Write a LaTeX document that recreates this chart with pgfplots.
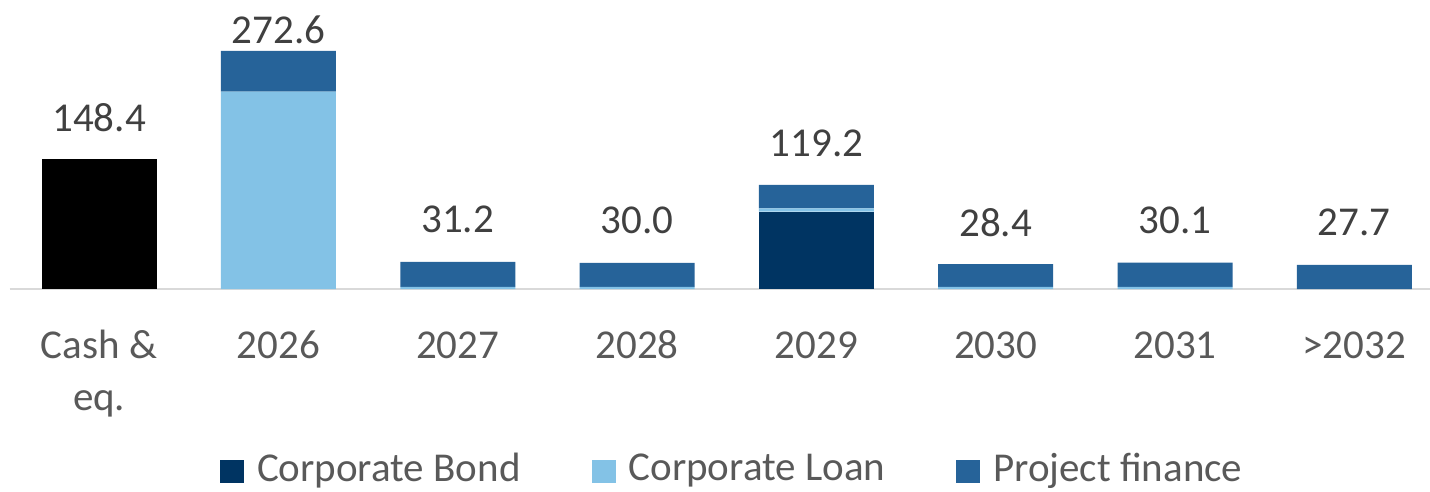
\documentclass[border=0pt]{standalone}
\usepackage{pgfplots}
\pgfplotsset{compat=1.18}
\usepackage{pgfplotstable}
\usepackage{fontspec}
\setmainfont{Carlito}
\definecolor{bondc}{RGB}{0,52,98}
\definecolor{loanc}{RGB}{131,194,230}
\definecolor{pfc}{RGB}{38,99,153}
\definecolor{valc}{HTML}{404040}
\definecolor{labc}{HTML}{595959}
\definecolor{axc}{HTML}{D9D9D9}
\newcommand{\cashlab}{\vtop{\halign{\hfil##\hfil\cr Cash \&\cr eq.\cr}}}
\pgfplotstableread{
x cash bond loan pf zero labA labB
0 148.4 0 0 0 0.001 148.4 {}
1 0 0 226.0 46.6 0.001 {} 272.6
2 0 0 2.5 28.7 0.001 31.2 {}
3 0 0 2.5 27.5 0.001 30.0 {}
4 0 88.5 3.9 26.8 0.001 119.2 {}
5 0 0 2.5 25.9 0.001 28.4 {}
6 0 0 2.5 27.6 0.001 30.1 {}
7 0 0 0 27.7 0.001 27.7 {}
}\data
\begin{document}
\begin{tikzpicture}
\useasboundingbox (-9.5pt,-202pt) rectangle (1420.5pt,289pt);
\begin{axis}[
  scale only axis,
  width=1420.5pt, height=289pt,
  xmin=-0.5, xmax=7.422,
  ymin=0, ymax=331,
  ybar stacked,
  bar width=115pt,
  axis y line=none,
  axis x line*=bottom,
  x axis line style={draw=axc, line width=2pt, -},
  xtick={0,1,2,3,4,5,6,7},
  xticklabels={\cashlab,2026,2027,2028,2029,2030,2031,{>2032}},
  major tick length=0pt,
  xtick style={draw=none},
  xticklabel style={anchor=base, yshift=-69pt, text=labc,
    font=\fontsize{41}{52}\selectfont},
  legend style={draw=none, fill=none, inner sep=0pt, outer sep=0pt,
    at={(210.5pt,-194pt)}, anchor=south west,
    legend columns=3,
    font=\fontsize{41}{52}\selectfont, text=labc,
    nodes={inner sep=0pt},
    /tikz/every odd column/.append style={column sep=13pt},
    /tikz/every even column/.append style={column sep=71pt}},
  legend image code/.code={\fill[#1] (0pt,-15pt) rectangle (24pt,8pt);},
]
\addplot[fill=black, draw=none, forget plot] table[x=x, y=cash] {\data};
\addplot[fill=bondc, draw=none] table[x=x, y=bond] {\data};
\addplot[fill=loanc, draw=none] table[x=x, y=loan] {\data};
\addplot[fill=pfc, draw=none] table[x=x, y=pf] {\data};
\addplot[fill=none, draw=none, forget plot,
  point meta=explicit symbolic,
  nodes near coords,
  every node near coord/.append style={inner sep=0pt,
    yshift=42pt, text=valc, font=\fontsize{41}{52}\selectfont}]
  table[x=x, y=zero, meta=labA] {\data};
\addplot[fill=none, draw=none, forget plot,
  point meta=explicit symbolic,
  nodes near coords,
  every node near coord/.append style={inner sep=0pt,
    yshift=21.6pt, text=valc, font=\fontsize{41}{52}\selectfont}]
  table[x=x, y=zero, meta=labB] {\data};
\legend{Corporate Bond, Corporate Loan, Project finance}
\end{axis}
\end{tikzpicture}
\end{document}
